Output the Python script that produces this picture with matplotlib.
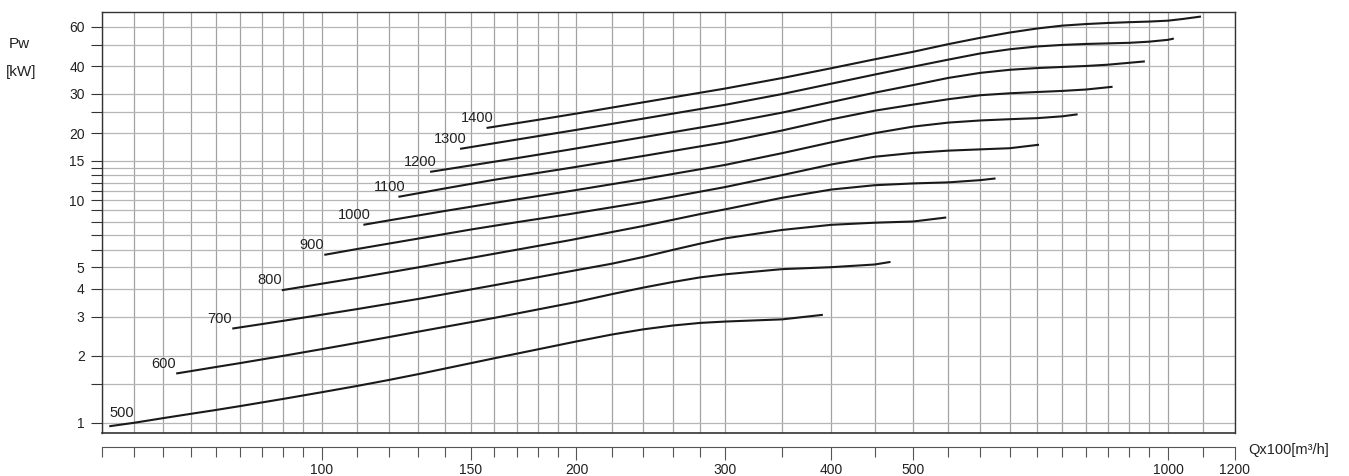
import numpy as np
import matplotlib.pyplot as plt
from matplotlib.ticker import NullFormatter

plt.rcParams['font.family'] = ['Liberation Sans', 'DejaVu Sans']

# curve data: Q (x100 m3/h) and Pw (kW) per speed label
q_500 = [56.1, 60, 65, 70, 75, 80, 90, 100, 110, 120, 130, 160, 200, 220, 240, 260, 280, 300, 350, 391]
pw_500 = [0.965, 1.0, 1.05, 1.097, 1.142, 1.188, 1.28, 1.372, 1.463, 1.557, 1.654, 1.95, 2.32, 2.49, 2.63, 2.735, 2.81, 2.85, 2.915, 3.055]

q_600 = [67.3, 75, 80, 90, 100, 110, 120, 130, 160, 200, 220, 240, 260, 280, 300, 350, 400, 450, 470]
pw_600 = [1.665, 1.781, 1.853, 1.998, 2.142, 2.285, 2.426, 2.566, 2.96, 3.49, 3.78, 4.05, 4.29, 4.5, 4.646, 4.9, 5.0, 5.14, 5.28]

q_700 = [78.4, 90, 110, 130, 160, 200, 220, 240, 260, 280, 300, 350, 400, 450, 500, 547]
pw_700 = [2.65, 2.87, 3.24, 3.6, 4.15, 4.85, 5.18, 5.56, 5.98, 6.38, 6.74, 7.35, 7.75, 7.92, 8.02, 8.36]

q_800 = [89.7, 110, 130, 150, 170, 196, 240, 280, 300, 350, 400, 450, 500, 550, 600, 625.5]
pw_800 = [3.94, 4.47, 4.99, 5.5, 5.99, 6.6, 7.66, 8.66, 9.1, 10.25, 11.16, 11.67, 11.89, 12.02, 12.3, 12.52]

q_900 = [100.7, 110, 130, 150, 170, 196, 240, 300, 350, 400, 450, 500, 550, 600, 650, 704]
pw_900 = [5.68, 6.03, 6.72, 7.38, 7.96, 8.65, 9.8, 11.46, 12.96, 14.46, 15.66, 16.3, 16.69, 16.91, 17.11, 17.74]

q_1000 = [112, 120, 140, 160, 180, 200, 240, 300, 350, 400, 450, 500, 550, 600, 650, 700, 750, 782]
pw_1000 = [7.75, 8.11, 8.95, 9.72, 10.43, 11.11, 12.44, 14.41, 16.26, 18.19, 19.99, 21.4, 22.3, 22.8, 23.1, 23.35, 23.8, 24.3]

q_1100 = [123.2, 140, 160, 180, 196, 240, 300, 350, 400, 450, 500, 550, 600, 650, 700, 750, 800, 860]
pw_1100 = [10.35, 11.3, 12.35, 13.25, 13.94, 15.8, 18.23, 20.56, 23.06, 25.22, 26.87, 28.4, 29.6, 30.2, 30.6, 30.95, 31.4, 32.3]

q_1200 = [134.3, 150, 170, 196, 240, 300, 350, 400, 450, 500, 550, 600, 650, 700, 750, 800, 850, 939]
pw_1200 = [13.4, 14.32, 15.44, 16.86, 19.19, 22.14, 24.73, 27.59, 30.38, 32.88, 35.4, 37.3, 38.5, 39.2, 39.65, 40.05, 40.6, 42.0]

q_1300 = [145.7, 160, 200, 240, 300, 350, 400, 450, 500, 550, 600, 650, 700, 750, 800, 850, 900, 950, 1000, 1016]
pw_1300 = [17.0, 18.02, 20.69, 23.25, 26.82, 29.97, 33.35, 36.64, 39.78, 42.77, 45.6, 47.6, 49.0, 49.8, 50.3, 50.6, 50.9, 51.5, 52.5, 53.2]

q_1400 = [156.6, 180, 200, 240, 300, 350, 400, 450, 500, 550, 600, 650, 700, 750, 800, 850, 900, 950, 1000, 1040, 1094]
pw_1400 = [21.1, 22.94, 24.49, 27.52, 31.74, 35.36, 39.13, 42.9, 46.4, 50.2, 53.6, 56.6, 59.0, 60.8, 61.8, 62.5, 63.0, 63.4, 64.0, 65.1, 66.8]

curves = [
    ("500", q_500, pw_500),
    ("600", q_600, pw_600),
    ("700", q_700, pw_700),
    ("800", q_800, pw_800),
    ("900", q_900, pw_900),
    ("1000", q_1000, pw_1000),
    ("1100", q_1100, pw_1100),
    ("1200", q_1200, pw_1200),
    ("1300", q_1300, pw_1300),
    ("1400", q_1400, pw_1400),
]

# axis ticks / grid
x_labels = [100, 150, 200, 300, 400, 500, 1000, 1200]
x_grid = (list(range(55, 100, 5)) + list(range(100, 200, 10)) + list(range(200, 300, 20))
          + list(range(300, 1000, 50)) + [1000, 1100, 1200])
y_labels = [1, 2, 3, 4, 5, 10, 15, 20, 30, 40, 60]
y_grid = [1, 1.5, 2, 3, 4, 5, 6, 7, 8, 9, 10, 11, 12, 13, 14, 15, 20, 25, 30, 40, 50, 60]

fig = plt.figure(figsize=(13.49, 4.76), dpi=100)
ax = fig.add_axes([102 / 1349, 1 - 433 / 476, (1235 - 102) / 1349, (433 - 12) / 476])
ax.set_xscale('log')
ax.set_yscale('log')
ax.set_xlim(55, 1200)
ax.set_ylim(0.9, 70)

for gx in x_grid:
    ax.axvline(gx, color='#a2a2a2', lw=0.9, zorder=1)
for gy in y_grid:
    ax.axhline(gy, color='#b6b6b6', lw=0.9, zorder=1)

ax.set_xticks(x_labels, labels=[str(v) for v in x_labels])
ax.set_xticks(x_grid, minor=True)
ax.xaxis.set_minor_formatter(NullFormatter())
ax.set_yticks(y_labels, labels=[str(v) for v in y_labels])
ax.set_yticks(y_grid, minor=True)
ax.yaxis.set_minor_formatter(NullFormatter())

ax.tick_params(axis='x', which='major', length=9.4, width=0.8, color='#555555',
               pad=2, labelsize=10, labelcolor='#222222')
ax.tick_params(axis='x', which='minor', length=7.2, width=0.8, color='#555555')
ax.tick_params(axis='y', which='both', length=8, width=0.8, color='#333333',
               pad=4.5, labelsize=10, labelcolor='#222222')

ax.spines['bottom'].set_position(('outward', 10))
ax.spines['bottom'].set_color('#555555')
ax.spines['bottom'].set_linewidth(0.8)
for s in ['left', 'top', 'right']:
    ax.spines[s].set_color('#333333')
    ax.spines[s].set_linewidth(1.0)
ax.axhline(0.9, color='#333333', lw=1.2, clip_on=False, zorder=3)

for name, q, pw in curves:
    ax.plot(q, pw, color='#1a1a1a', lw=1.5, zorder=4, solid_capstyle='butt',
            solid_joinstyle='round')
    if name == "500":
        ax.annotate(name, xy=(q[0], pw[0]), xytext=(0, 6), textcoords='offset pixels',
                    ha='left', va='bottom', fontsize=10.5, color='#222222')
    else:
        dx = 7 if len(name) == 4 else 0
        ax.annotate(name, xy=(q[0], pw[0]), xytext=(dx, 3), textcoords='offset pixels',
                    ha='right', va='bottom', fontsize=10.5, color='#222222')

fig.text(9 / 1349, 1 - 44 / 476, "Pw", fontsize=11, va='center', ha='left', color='#222222')
fig.text(6 / 1349, 1 - 72 / 476, "[kW]", fontsize=11, va='center', ha='left', color='#222222')
fig.text(1248 / 1349, 1 - 450 / 476, "Qx100[m³/h]", fontsize=10.5, va='center', ha='left',
         color='#222222')

fig.savefig('out.png', dpi=100)
